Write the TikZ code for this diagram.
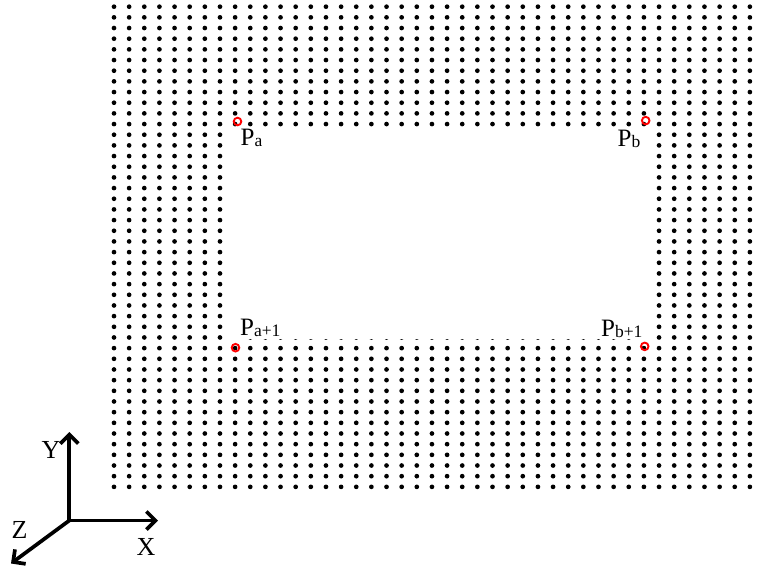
\documentclass[tikz,border=0pt]{standalone}
\usepackage{fontspec}
\setmainfont{Liberation Serif}
\usetikzlibrary{arrows.meta}
\newcommand{\sbx}[1]{{\fontsize{17.5}{17.5}\selectfont\raisebox{-1pt}{#1}}}
\tikzset{
  griddot/.style={fill=black},
  ring/.style={circle,draw=red,line width=1.9pt,minimum size=7.6pt,inner sep=0pt},
  ptlabel/.style={anchor=base west,inner sep=0pt,font=\fontsize{25}{25}\selectfont},
  axislabel/.style={anchor=base west,inner sep=0pt,font=\fontsize{26}{26}\selectfont},
  axisarrow/.style={line width=3.7pt,line cap=round,-{Straight Barb[length=9pt,width=18pt]}}
}
\begin{document}
\begin{tikzpicture}[x=1pt,y=-1pt]
\useasboundingbox (0,0) rectangle (759,569);
% dot grid with rectangular hole
\foreach \c in {0,...,42}{%
  \foreach \r in {0,...,45}{%
    \pgfmathtruncatemacro\hole{and(and(\r>11,\r<32),and(\c>7,\c<36))}%
    \ifnum\hole=0
      \fill[griddot] ({114+15.14*\c},{6.7+10.67*\r}) circle (2.35);
    \fi
  }%
}
% bottom slivers of the covered row
\begin{scope}
  \clip (0,339.0) rectangle (759,342);
  \foreach \c in {9,...,34}{\fill[griddot] ({114+15.14*\c},337.5) circle (2.35);}
\end{scope}
% marked points
\node[ring] (pa)  at (237.5,121.5) {};
\node[ring] (pb)  at (645.7,120.6) {};
\node[ring] (pa1) at (235.5,347.7) {};
\node[ring] (pb1) at (644.7,346.4) {};
\node[ptlabel] (la)  at (240.5,145.5) {P\sbx{a}};
\node[ptlabel] (lb)  at (617.5,146.5) {P\sbx{b}};
\node[ptlabel] (la1) at (240,335.8) {P\sbx{a+1}};
\node[ptlabel] (lb1) at (601,336.7) {P\sbx{b+1}};
% axes
\coordinate (o) at (69.3,520.5);
\coordinate (ye) at (69.3,432);
\coordinate (xe) at (158,520.5);
\coordinate (ze) at (11,563.5);
\draw[axisarrow] (o) -- (ye);
\draw[axisarrow] (o) -- (xe);
\draw[axisarrow] (o) -- (ze);
\node[axislabel] (ly) at (41.5,458.5) {Y};
\node[axislabel] (lx) at (136.5,555.5) {X};
\node[axislabel] (lz) at (11.5,538.5) {Z};
\end{tikzpicture}
\end{document}
